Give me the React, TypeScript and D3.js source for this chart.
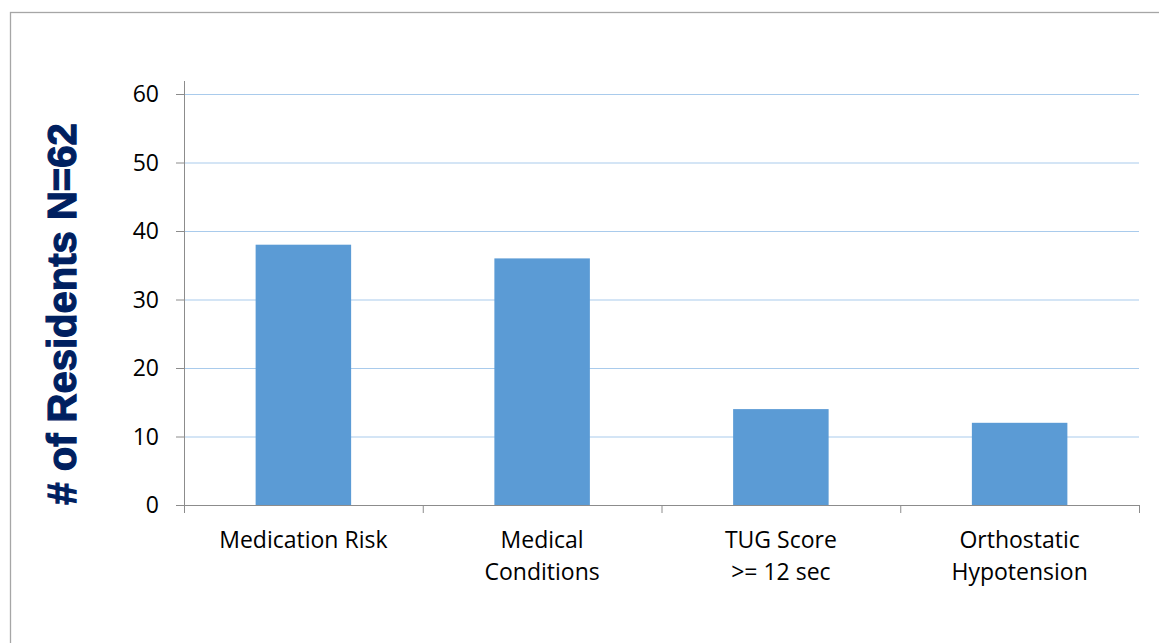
import React from "react";
import * as d3 from "d3";

const categories: string[][] = [
  ["Medication Risk"],
  ["Medical", "Conditions"],
  ["TUG Score", ">= 12 sec"],
  ["Orthostatic", "Hypotension"],
];
const residents: number[] = [38, 36, 14, 12];
const yTicks: number[] = [0, 10, 20, 30, 40, 50, 60];
const yTitle = "# of Residents N=62";

const W = 1159;
const H = 643;
const plot = { left: 184, right: 1139, top: 94, bottom: 505 };

export default function App() {
  const keys = categories.map((c) => c.join(" "));
  const x = d3
    .scaleBand<string>()
    .domain(keys)
    .range([plot.left, plot.right])
    .paddingInner(0.6)
    .paddingOuter(0.3);
  const y = d3.scaleLinear().domain([0, 60]).range([plot.bottom, plot.top]);
  const bounds = d3
    .range(keys.length + 1)
    .map((i) => plot.left + i * ((plot.right - plot.left) / keys.length));
  const labelFont = "'Open Sans', 'DejaVu Sans', sans-serif";

  return (
    <svg
      width={W}
      height={H}
      style={{ position: "absolute", left: 0, top: 0, background: "#fff" }}
    >
      {/* outer frame */}
      <rect x={10.5} y={12.5} width={W + 20} height={H + 20} fill="none" stroke="#a6a6a6" strokeWidth={1.3} />

      {/* gridlines */}
      {yTicks
        .filter((t) => t > 0)
        .map((t) => (
          <line key={t} x1={plot.left} x2={plot.right} y1={y(t) + 0.5} y2={y(t) + 0.5} stroke="#a9cbec" strokeWidth={1} />
        ))}

      {/* bars */}
      {residents.map((v, i) => {
        const k = keys[i];
        const bx = x(k) as number;
        return (
          <rect key={k} x={bx} y={y(v)} width={x.bandwidth()} height={y(0) - y(v)} fill="#5b9bd5" />
        );
      })}

      {/* y axis */}
      <line x1={plot.left + 0.5} x2={plot.left + 0.5} y1={plot.top - 13} y2={plot.bottom + 8} stroke="#8c8c8c" strokeWidth={1} />
      {yTicks.map((t) => (
        <g key={t}>
          <line x1={plot.left - 8} x2={plot.left} y1={y(t) + 0.5} y2={y(t) + 0.5} stroke="#8c8c8c" strokeWidth={1} />
          <text x={159} y={y(t)} dy="0.36em" textAnchor="end" fontSize={23} fontFamily={labelFont} fill="#000">
            {t}
          </text>
        </g>
      ))}

      {/* x axis */}
      <line x1={plot.left} x2={plot.right} y1={plot.bottom + 0.5} y2={plot.bottom + 0.5} stroke="#8c8c8c" strokeWidth={1} />
      {bounds.map((b, i) => (
        <line key={i} x1={b + 0.5} x2={b + 0.5} y1={plot.bottom} y2={plot.bottom + 8} stroke="#8c8c8c" strokeWidth={1} />
      ))}
      {categories.map((lines, i) => {
        const cx = (x(keys[i]) as number) + x.bandwidth() / 2;
        return (
          <text key={keys[i]} x={cx} y={548} textAnchor="middle" fontSize={23} fontFamily={labelFont} fill="#000">
            {lines.map((l, j) => (
              <tspan key={j} x={cx} dy={j === 0 ? 0 : 32}>
                {l}
              </tspan>
            ))}
          </text>
        );
      })}

      {/* y axis title */}
      <text
        transform={`translate(76, 314) rotate(-90)`}
        textAnchor="middle"
        fontSize={40}
        fontWeight="bold"
        fontFamily="'Liberation Sans', Arial, sans-serif"
        fill="#002060"
        stroke="#002060"
        strokeWidth={1.2}
      >
        {yTitle}
      </text>
    </svg>
  );
}
